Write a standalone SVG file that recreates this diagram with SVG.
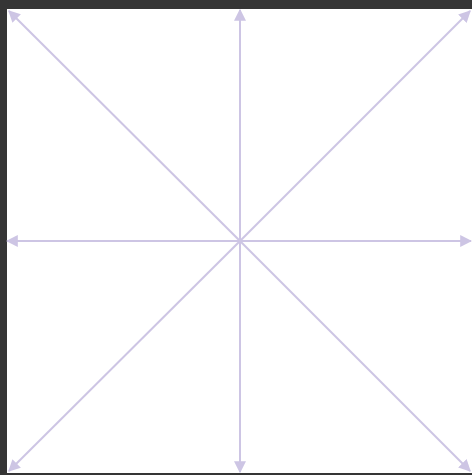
<svg xmlns="http://www.w3.org/2000/svg" width="472" height="475" viewBox="0 0 472 475">
<style>
.c{stroke:#cdc5e4;stroke-width:2;fill:none;marker-end:url(#ah)}
</style>
<defs>
<marker id="ah" viewBox="0 0 10 10" refX="9" refY="5" markerWidth="6" markerHeight="6" markerUnits="strokeWidth" orient="auto">
<path d="M0,0 L10,5 L0,10 z" fill="#cdc5e4"/>
</marker>
</defs>
<rect x="0" y="0" width="472" height="475" fill="#353535"/>
<rect x="7" y="9" width="465" height="464" fill="#ffffff"/>
<g id="connectors">
<line class="c" x1="240" y1="241" x2="240" y2="10"/>
<line class="c" x1="240" y1="241" x2="240" y2="472"/>
<line class="c" x1="240" y1="241" x2="7" y2="241"/>
<line class="c" x1="240" y1="241" x2="471" y2="241"/>
<line class="c" x1="240" y1="241" x2="9" y2="11"/>
<line class="c" x1="240" y1="241" x2="470" y2="11"/>
<line class="c" x1="240" y1="241" x2="9" y2="471"/>
<line class="c" x1="240" y1="241" x2="470" y2="471"/>
</g>
</svg>
